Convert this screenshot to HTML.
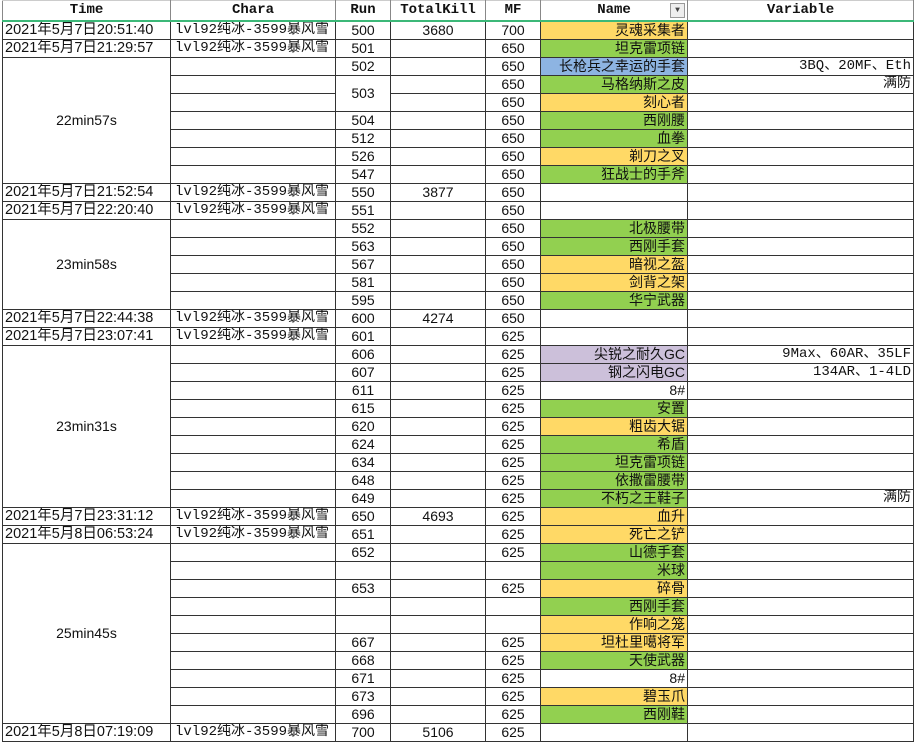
<!DOCTYPE html>
<html><head><meta charset="utf-8"><style>
body{margin:0;background:#fff;width:915px;height:741px;overflow:hidden;position:relative}
table{position:absolute;left:2px;top:0;border-collapse:collapse;table-layout:fixed;font-family:"Liberation Sans","Noto Sans CJK SC",sans-serif;font-size:14px;color:#111}
td{border:1px solid #333;height:17px;padding:0 2px;white-space:nowrap;overflow:hidden;text-align:center;line-height:17px}
tr.h td{height:19px;font-family:"Liberation Mono","Noto Sans CJK SC",monospace;font-weight:bold;border-top:1px solid #ccc;border-bottom:2px solid #3cb878;border-left:1px solid #888;border-right:1px solid #888}
td.t{text-align:left;font-size:14.5px;padding-left:2px}
td.c{text-align:left;padding-left:4px;font-family:"Liberation Mono","Noto Sans CJK SC",monospace}
td.n{text-align:right}
td.v{text-align:right;font-family:"Liberation Mono","Noto Sans CJK SC",monospace}
.y{background:#ffd966}.g{background:#92d050}.b{background:#8db4e2}.p{background:#ccc0da}
</style></head><body>
<table>
<colgroup><col style="width:168px"><col style="width:165px"><col style="width:55px"><col style="width:95px"><col style="width:55px"><col style="width:147px"><col style="width:226px"></colgroup>
<tr class="h"><td>Time</td><td>Chara</td><td>Run</td><td>TotalKill</td><td>MF</td><td style="position:relative">Name<span style="position:absolute;right:2px;top:2px;width:13px;height:13px;border:1px solid #999;background:#eee;font-size:8px;line-height:13px;color:#444">▼</span></td><td>Variable</td></tr>
<tr><td class="t">2021年5月7日20:51:40</td><td class="c">lvl92纯冰-3599暴风雪</td><td>500</td><td>3680</td><td>700</td><td class="n y">灵魂采集者</td><td class="v"></td></tr>
<tr><td class="t">2021年5月7日21:29:57</td><td class="c">lvl92纯冰-3599暴风雪</td><td>501</td><td></td><td>650</td><td class="n g">坦克雷项链</td><td class="v"></td></tr>
<tr><td rowspan="7">22min57s</td><td></td><td>502</td><td></td><td>650</td><td class="n b">长枪兵之幸运的手套</td><td class="v">3BQ、20MF、Eth</td></tr>
<tr><td></td><td rowspan="2">503</td><td></td><td>650</td><td class="n g">马格纳斯之皮</td><td class="v">满防</td></tr>
<tr><td></td><td></td><td>650</td><td class="n y">刻心者</td><td class="v"></td></tr>
<tr><td></td><td>504</td><td></td><td>650</td><td class="n g">西刚腰</td><td class="v"></td></tr>
<tr><td></td><td>512</td><td></td><td>650</td><td class="n g">血拳</td><td class="v"></td></tr>
<tr><td></td><td>526</td><td></td><td>650</td><td class="n y">剃刀之叉</td><td class="v"></td></tr>
<tr><td></td><td>547</td><td></td><td>650</td><td class="n g">狂战士的手斧</td><td class="v"></td></tr>
<tr><td class="t">2021年5月7日21:52:54</td><td class="c">lvl92纯冰-3599暴风雪</td><td>550</td><td>3877</td><td>650</td><td class="n"></td><td class="v"></td></tr>
<tr><td class="t">2021年5月7日22:20:40</td><td class="c">lvl92纯冰-3599暴风雪</td><td>551</td><td></td><td>650</td><td class="n"></td><td class="v"></td></tr>
<tr><td rowspan="5">23min58s</td><td></td><td>552</td><td></td><td>650</td><td class="n g">北极腰带</td><td class="v"></td></tr>
<tr><td></td><td>563</td><td></td><td>650</td><td class="n g">西刚手套</td><td class="v"></td></tr>
<tr><td></td><td>567</td><td></td><td>650</td><td class="n y">暗视之盔</td><td class="v"></td></tr>
<tr><td></td><td>581</td><td></td><td>650</td><td class="n y">剑背之架</td><td class="v"></td></tr>
<tr><td></td><td>595</td><td></td><td>650</td><td class="n g">华宁武器</td><td class="v"></td></tr>
<tr><td class="t">2021年5月7日22:44:38</td><td class="c">lvl92纯冰-3599暴风雪</td><td>600</td><td>4274</td><td>650</td><td class="n"></td><td class="v"></td></tr>
<tr><td class="t">2021年5月7日23:07:41</td><td class="c">lvl92纯冰-3599暴风雪</td><td>601</td><td></td><td>625</td><td class="n"></td><td class="v"></td></tr>
<tr><td rowspan="9">23min31s</td><td></td><td>606</td><td></td><td>625</td><td class="n p">尖锐之耐久GC</td><td class="v">9Max、60AR、35LF</td></tr>
<tr><td></td><td>607</td><td></td><td>625</td><td class="n p">钢之闪电GC</td><td class="v">134AR、1-4LD</td></tr>
<tr><td></td><td>611</td><td></td><td>625</td><td class="n">8#</td><td class="v"></td></tr>
<tr><td></td><td>615</td><td></td><td>625</td><td class="n g">安置</td><td class="v"></td></tr>
<tr><td></td><td>620</td><td></td><td>625</td><td class="n y">粗齿大锯</td><td class="v"></td></tr>
<tr><td></td><td>624</td><td></td><td>625</td><td class="n g">希盾</td><td class="v"></td></tr>
<tr><td></td><td>634</td><td></td><td>625</td><td class="n g">坦克雷项链</td><td class="v"></td></tr>
<tr><td></td><td>648</td><td></td><td>625</td><td class="n g">依撒雷腰带</td><td class="v"></td></tr>
<tr><td></td><td>649</td><td></td><td>625</td><td class="n g">不朽之王鞋子</td><td class="v">满防</td></tr>
<tr><td class="t">2021年5月7日23:31:12</td><td class="c">lvl92纯冰-3599暴风雪</td><td>650</td><td>4693</td><td>625</td><td class="n y">血升</td><td class="v"></td></tr>
<tr><td class="t">2021年5月8日06:53:24</td><td class="c">lvl92纯冰-3599暴风雪</td><td>651</td><td></td><td>625</td><td class="n y">死亡之铲</td><td class="v"></td></tr>
<tr><td rowspan="10">25min45s</td><td></td><td>652</td><td></td><td>625</td><td class="n g">山德手套</td><td class="v"></td></tr>
<tr><td></td><td></td><td></td><td></td><td class="n g">米球</td><td class="v"></td></tr>
<tr><td></td><td>653</td><td></td><td>625</td><td class="n y">碎骨</td><td class="v"></td></tr>
<tr><td></td><td></td><td></td><td></td><td class="n g">西刚手套</td><td class="v"></td></tr>
<tr><td></td><td></td><td></td><td></td><td class="n y">作响之笼</td><td class="v"></td></tr>
<tr><td></td><td>667</td><td></td><td>625</td><td class="n y">坦杜里噶将军</td><td class="v"></td></tr>
<tr><td></td><td>668</td><td></td><td>625</td><td class="n g">天使武器</td><td class="v"></td></tr>
<tr><td></td><td>671</td><td></td><td>625</td><td class="n">8#</td><td class="v"></td></tr>
<tr><td></td><td>673</td><td></td><td>625</td><td class="n y">碧玉爪</td><td class="v"></td></tr>
<tr><td></td><td>696</td><td></td><td>625</td><td class="n g">西刚鞋</td><td class="v"></td></tr>
<tr><td class="t">2021年5月8日07:19:09</td><td class="c">lvl92纯冰-3599暴风雪</td><td>700</td><td>5106</td><td>625</td><td class="n"></td><td class="v"></td></tr>
</table>
</body></html>
